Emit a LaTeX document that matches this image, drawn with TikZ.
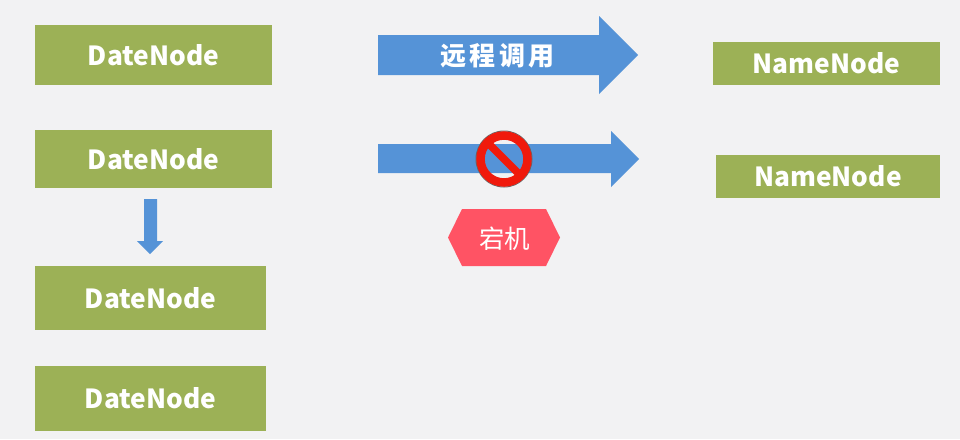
\documentclass[tikz,border=0pt]{standalone}
\usepackage{fontspec}
\setmainfont{Noto Sans CJK SC}
\newfontfamily\cjk{Noto Sans CJK SC}
\newfontfamily\cjkwide[LetterSpace=13]{Noto Sans CJK SC}
\usetikzlibrary{shapes.geometric}
\definecolor{pagebg}{HTML}{F2F2F3}
\definecolor{boxgreen}{HTML}{9CB156}
\definecolor{arrowblue}{HTML}{5593D7}
\definecolor{hexred}{HTML}{FF5364}
\definecolor{stopred}{HTML}{F01A0C}
\tikzset{
  x=1pt,y=-1pt,
  greenbox/.style={fill=boxgreen,draw=none,font=\fontsize{26.3}{27}\selectfont\bfseries,text=white,inner sep=0pt},
  blockarrow/.style={fill=arrowblue,draw=none},
  arrowtext/.style={font=\cjkwide\fontsize{26}{26}\selectfont\bfseries,text=white,inner sep=0pt},
  hexlabel/.style={font=\cjk\fontsize{25.5}{26}\selectfont,text=white,inner sep=0pt}
}
\newcommand{\gbox}[6]{%
  \path[greenbox] (#2,#4) rectangle (#3,#5);
  \node[greenbox,fill=none] (#1) at ({(#2+#3)/2},{(#4+#5)/2}) {#6};
}
\begin{document}
\begin{tikzpicture}
\useasboundingbox (0,0) rectangle (960,439);
\fill[pagebg] (0,0) rectangle (960,439);
\gbox{d1}{35}{272}{25}{85}{DateNode}
\gbox{d2}{35}{272}{130}{188}{DateNode}
\gbox{d3}{35}{266}{266}{330}{DateNode}
\gbox{d4}{35}{266}{366}{431}{DateNode}
\gbox{n1}{713}{940}{42}{85}{NameNode}
\gbox{n2}{716}{940}{155}{198}{NameNode}
% remote-call arrow
\path[blockarrow] (378,35) -- (599,35) -- (599,16) -- (638,55) -- (599,94) -- (599,75) -- (378,75) -- cycle;
\node[arrowtext] (call) at (497.5,56) {远程调用};
% blocked arrow
\path[blockarrow] (378,144) -- (611,144) -- (611,131) -- (639,159) -- (611,187) -- (611,173) -- (378,173) -- cycle;
% prohibition sign
\coordinate (stop) at (504,159);
\draw[black!60,line width=1pt] (stop) circle (28);
\draw[stopred,line width=8.5pt] (stop) circle (23.5);
\draw[stopred,line width=7.5pt] (490,145) -- (518,173);
% host hexagon
\path[fill=hexred] (448,237.5) -- (462,209) -- (546,209) -- (560,237.5) -- (546,266) -- (462,266) -- cycle;
\node[hexlabel] (host) at (504.5,239) {宕机};
% down arrow
\path[blockarrow] (144,199) -- (157,199) -- (157,241) -- (163,241) -- (150,254) -- (137,241) -- (144,241) -- cycle;
\end{tikzpicture}
\end{document}
